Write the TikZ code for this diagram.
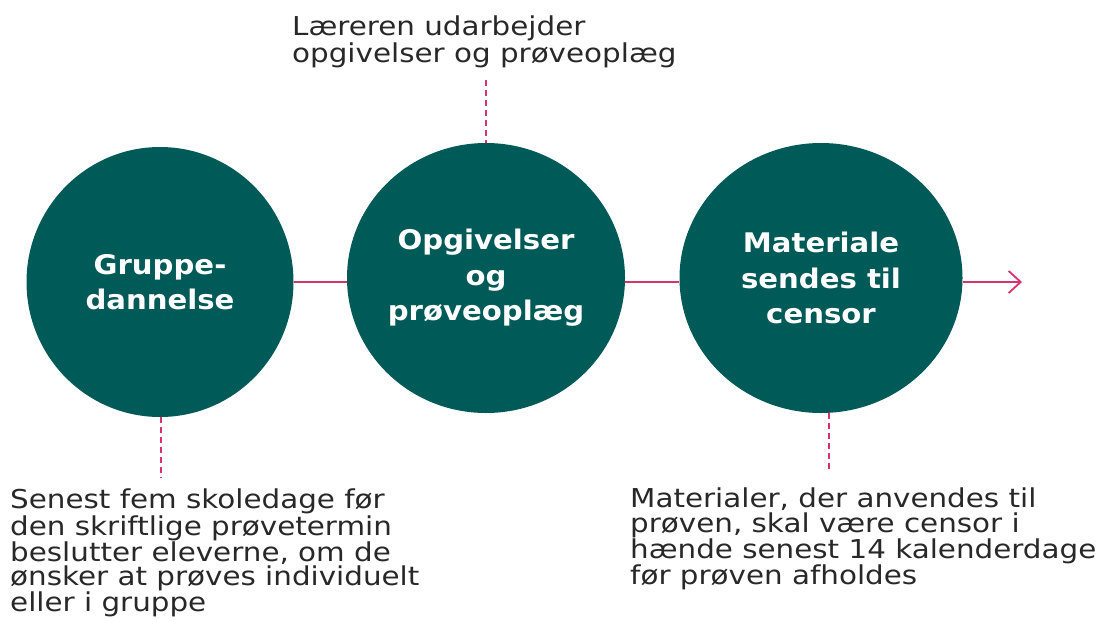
\documentclass[tikz,border=0pt]{standalone}
\usepackage{fontspec}
\setmainfont{DejaVu Sans}
\newfontfamily\notefont[FakeStretch=1.13]{DejaVu Sans}
\newfontfamily\stagefont[FakeStretch=1.08]{DejaVu Sans Bold}
\usetikzlibrary{shapes.geometric,arrows.meta}
\definecolor{stageteal}{RGB}{0,90,87}
\definecolor{linkpink}{RGB}{214,51,108}
\definecolor{notegray}{RGB}{40,40,40}
\tikzset{
  stage-circle/.style={
    ellipse,
    fill=stageteal,
    text=white,
    inner sep=0pt,
    align=center,
    font=\stagefont\fontsize{27}{35.5}\selectfont
  },
  link-line/.style={draw=linkpink, line width=1.8pt},
  link-dash/.style={link-line, line width=1.5pt, dash pattern=on 6pt off 4pt},
  note-text/.style={
    text=notegray,
    inner sep=0pt,
    align=left,
    font=\notefont\fontsize{26}{24.4}\selectfont
  }
}

\begin{document}
\begin{tikzpicture}[x=1pt,y=-1pt]
  \useasboundingbox (0,0) rectangle (1098,619);

  % --- The stages ---
  \node[stage-circle, minimum width=267pt, minimum height=270pt] (grp) at (160,282) {Gruppe-\\dannelse};
  \node[stage-circle, minimum width=278pt, minimum height=270pt] (opg) at (486,278) {Opgivelser\\og\\prøveoplæg};
  \node[stage-circle, minimum width=283pt, minimum height=270pt] (mat) at (821,278) {Materiale\\sendes til\\censor};

  % --- Timeline ---
  \coordinate (end) at (1022,282);
  \draw[link-line] (grp.east) -- (grp.east -| opg.west);
  \draw[link-line] (opg.east |- grp.east) -- (grp.east -| mat.west);
  \draw[link-line, -{Straight Barb[length=12pt,width=22pt,line width=1.8pt]}] (mat.east |- grp.east) -- (end);

  % --- Notes ---
  \node[note-text, anchor=north west] (n-opg) at (292,16) {Læreren udarbejder\\opgivelser og prøveoplæg};
  \node[note-text, anchor=north west] (n-grp) at (10,489) {Senest fem skoledage før\\den skriftlige prøvetermin\\beslutter eleverne, om de\\ønsker at prøves individuelt\\eller i gruppe};
  \node[note-text, anchor=north west] (n-mat) at (630,488) {Materialer, der anvendes til\\prøven, skal være censor i\\hænde senest 14 kalenderdage\\før prøven afholdes};

  % dashed pointers
  \coordinate (p-opg) at (486,80);
  \coordinate (p-grp) at (161,478);
  \coordinate (p-mat) at (829,472);
  \draw[link-dash] (p-opg) -- (opg.north);
  \draw[link-dash] (grp.south -| p-grp) -- (p-grp);
  \draw[link-dash] (mat.south -| p-mat) -- (p-mat);
\end{tikzpicture}
\end{document}
